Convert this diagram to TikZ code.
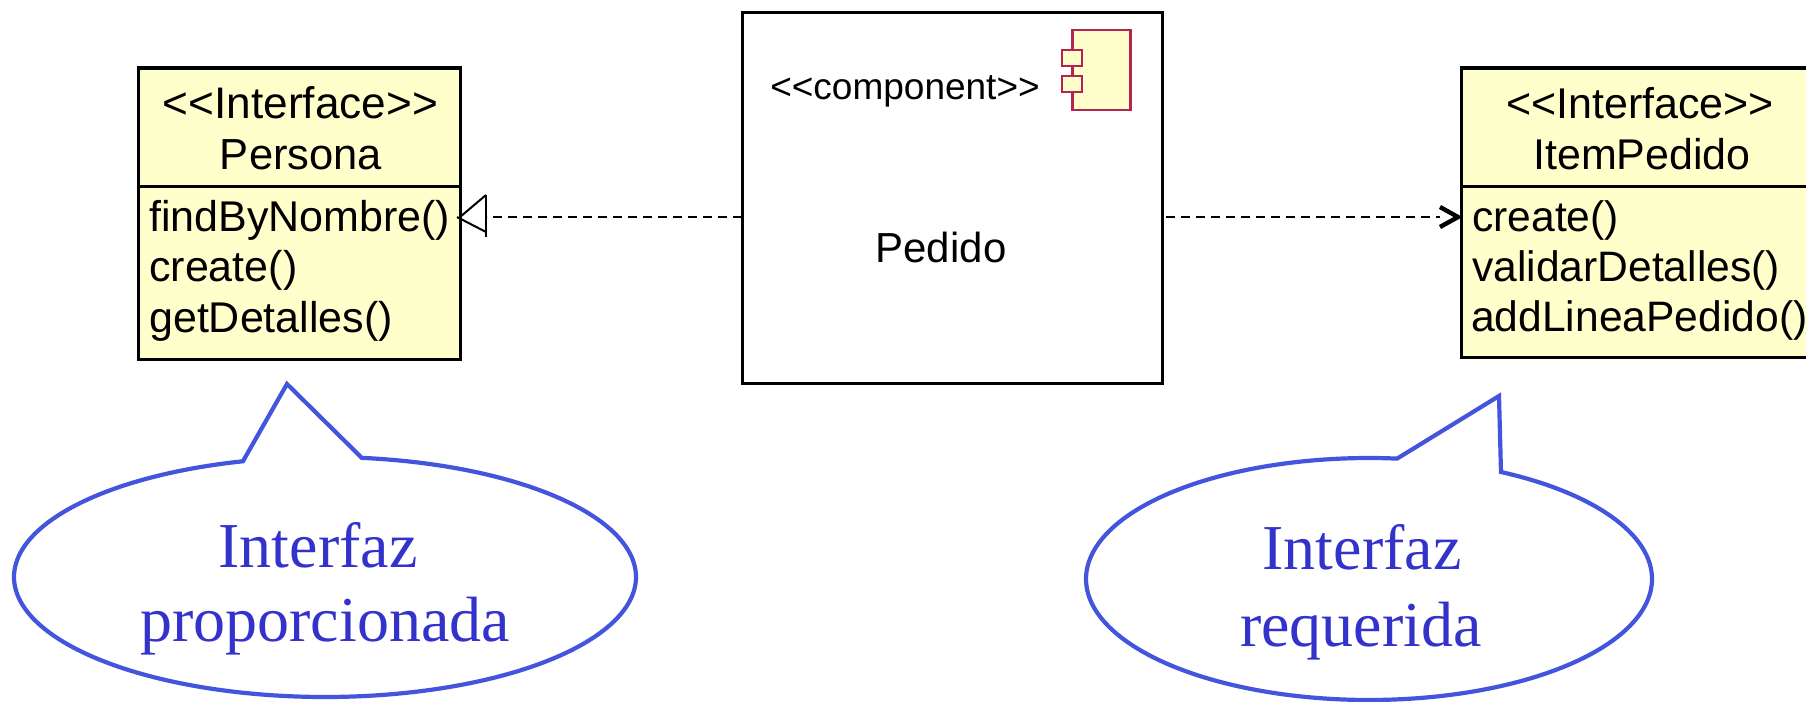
\documentclass[tikz,border=0pt]{standalone}
\usepackage{fontspec}
\setmainfont{Liberation Sans}
\newfontfamily\calloutfont{Liberation Serif}
\usetikzlibrary{arrows.meta}
\definecolor{umlfill}{HTML}{FFFFCC}
\definecolor{iconline}{HTML}{B5234F}
\definecolor{calloutline}{HTML}{4455DD}
\definecolor{callouttext}{HTML}{3333CC}
\tikzset{
  umlbox/.style={draw=black,line width=3pt,fill=umlfill,inner sep=0pt,outer sep=0pt},
  compbox/.style={draw=black,line width=3pt,fill=white,inner sep=0pt,outer sep=0pt},
  umltext/.style={inner sep=0pt,anchor=base,font=\fontsize{43.5}{44}\selectfont},
  umlrow/.style={inner sep=0pt,anchor=base west,font=\fontsize{43}{44}\selectfont},
  itemrow/.style={inner sep=0pt,anchor=base west,font=\fontsize{42.6}{44}\selectfont},
  icon/.style={draw=iconline,line width=2.6pt,fill=umlfill},
  dep/.style={line width=2.8pt,dash pattern=on 9pt off 6pt},
  callout/.style={draw=calloutline,line width=4.2pt,fill=white,line join=miter},
  callouttxt/.style={inner sep=0pt,anchor=base,text=callouttext,font=\calloutfont\fontsize{64}{64}\selectfont}
}
\begin{document}
\begin{tikzpicture}[x=1pt,y=-1pt]
\useasboundingbox (0,0) rectangle (1806,701);
\fill[white] (0,0) rectangle (1806,701);
% Persona
\path[umlbox] (138.5,68) rectangle (460,359);
\draw[line width=3pt] (138.5,186) -- (460,186);
\node[umltext,font=\fontsize{44.2}{44}\selectfont] (pst) at (300.5,118) {<{}<Interface>{}>};
\node[umltext] (pnm) at (301,169) {Persona};
\node[umlrow] (p1) at (149,231) {findByNombre()};
\node[umlrow] (p2) at (149,281) {create()};
\node[umlrow] (p3) at (149,332) {getDetalles()};
\coordinate (persona) at (460,217);
% Pedido
\path[compbox] (742,13) rectangle (1162,383);
\node[inner sep=0pt,anchor=base,font=\fontsize{37}{37}\selectfont] (cst) at (905,99) {<{}<component>{}>};
\node[inner sep=0pt,anchor=base,font=\fontsize{42}{42}\selectfont] (cnm) at (941,262) {Pedido};
\path[icon] (1072.7,30) rectangle (1130.7,110);
\path[icon] (1062,50) rectangle (1082,66);
\path[icon] (1062,76) rectangle (1082,92);
\coordinate (pedidoL) at (742,217);
\coordinate (pedidoR) at (1166,217);
% ItemPedido
\path[umlbox] (1461,68) -- (1810,68) -- (1810,357) -- (1461,357) -- cycle;
\draw[line width=3pt] (1461,186) -- (1810,186);
\node[umltext,font=\fontsize{43}{44}\selectfont] (ist) at (1640,118) {<{}<Interface>{}>};
\node[umltext,font=\fontsize{43}{44}\selectfont] (inm) at (1642,169) {ItemPedido};
\node[itemrow] (i1) at (1472,231) {create()};
\node[itemrow] (i2) at (1472,281) {validarDetalles()};
\node[itemrow] (i3) at (1471,331) {addLineaPedido()};
\coordinate (item) at (1458,217);
% connectors
\coordinate (tbase) at (486,217);
\draw[dep] (pedidoL) -- ([xshift=1pt]tbase);
\draw[line width=2pt,line join=miter] (486,195) -- (persona) ++(-3,0) -- (486,232);
\draw[line width=2pt] (486,195) -- (486,237);
\draw[dep] (pedidoR) -- ([xshift=-18pt]item);
\draw[line width=4.4pt,line join=miter] (1440,207) -- (item) -- (1440,227);
% Callouts
\draw[callout] plot[domain=83.2:-254.7,samples=240] ({325+311*cos(\x)},{577-120*sin(\x)}) -- (287,384) -- cycle;
\node[callouttxt] (c1a) at (318,567) {Interfaz};
\node[callouttxt] (c1b) at (325,641) {proporcionada};
\draw[callout] plot[domain=62.2:-275.7,samples=240] ({1369+283*cos(\x)},{579-121*sin(\x)}) -- (1499,396) -- cycle;
\node[callouttxt] (c2a) at (1362,569) {Interfaz};
\node[callouttxt] (c2b) at (1361,646) {requerida};
\end{tikzpicture}
\end{document}
